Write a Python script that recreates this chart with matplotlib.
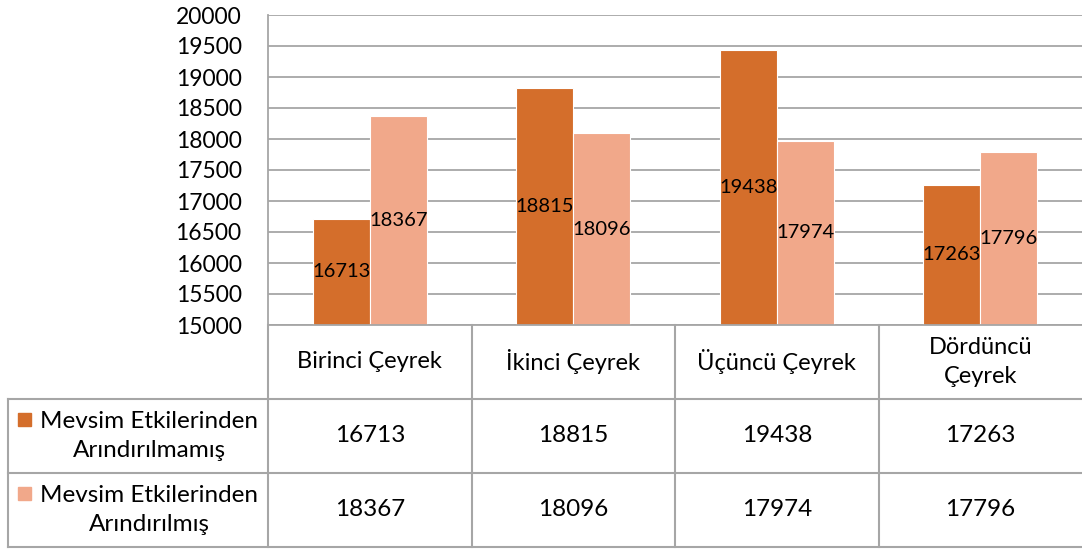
import matplotlib.pyplot as plt
from matplotlib.patches import Rectangle

# data
categories = ["Birinci Çeyrek", "İkinci Çeyrek", "Üçüncü Çeyrek", "Dördüncü\nÇeyrek"]
series_names = ["Mevsim Etkilerinden\nArındırılmamış", "Mevsim Etkilerinden\nArındırılmış"]
unadjusted = [16713, 18815, 19438, 17263]
adjusted = [18367, 18096, 17974, 17796]
yticks = list(range(15000, 20001, 500))

colors = ["#D46E2B", "#F1A88A"]
grid_col = "#A6A6A6"
plt.rcParams['font.family'] = ['Lato', 'DejaVu Sans']

W, H = 1082, 549
fig = plt.figure(figsize=(W / 100, H / 100), dpi=100)

# chart area in pixels
left, top, right, bottom = 268, 15, 1082, 325
ax = fig.add_axes([left / W, 1 - bottom / H, (right - left) / W, (bottom - top) / H])

w = 0.28
for i, (a, b) in enumerate(zip(unadjusted, adjusted)):
    ax.bar(i - w / 2, a, w, color=colors[0], edgecolor="white", linewidth=0.8, zorder=2)
    ax.bar(i + w / 2, b, w, color=colors[1], edgecolor="white", linewidth=0.8, zorder=2)
    ax.text(i - w / 2, (15000 + a) / 2, str(a), ha="center", va="center", fontsize=14.5, zorder=3)
    ax.text(i + w / 2, (15000 + b) / 2, str(b), ha="center", va="center", fontsize=14.5, zorder=3)

ax.set_xlim(-0.5, len(categories) - 0.5)
ax.set_ylim(15000, 20000)
ax.set_yticks(yticks)
ax.set_yticklabels([str(t) for t in yticks], fontsize=16.5)
ax.tick_params(axis="y", length=0, pad=19)
ax.set_xticks([])
ax.yaxis.grid(True, color=grid_col, linewidth=1.3)
ax.set_axisbelow(True)
for s in ["top", "right"]:
    ax.spines[s].set_visible(False)
for s in ["left", "bottom"]:
    ax.spines[s].set_color(grid_col)
    ax.spines[s].set_linewidth(1.3)

# data table drawn in pixel coordinates
tb = fig.add_axes([0, 0, 1, 1], facecolor="none")
tb.set_xlim(0, W)
tb.set_ylim(H, 0)
tb.axis("off")

col_w = (right - left) / len(categories)
row_top = [bottom, 399, 473]
row_bot = 547
lkw = dict(color=grid_col, linewidth=1.5)

# vertical lines
for k in range(len(categories)):
    x = left + k * col_w
    tb.plot([x, x], [bottom, row_bot], **lkw)
tb.plot([8, 8], [row_top[1], row_bot], **lkw)
# horizontal lines
for y in row_top[1:] + [row_bot]:
    tb.plot([8, right], [y, y], **lkw)

# header
for k, c in enumerate(categories):
    tb.text(left + (k + 0.5) * col_w, (row_top[0] + row_top[1]) / 2, c,
            ha="center", va="center", fontsize=17, linespacing=1.45)

# series rows
rows = [unadjusted, adjusted]
row_bounds = [(row_top[1], row_top[2]), (row_top[2], row_bot)]
for r, (vals, name) in enumerate(zip(rows, series_names)):
    y0, y1 = row_bounds[r]
    yc = (y0 + y1) / 2
    tb.add_patch(Rectangle((18, yc - 23), 13, 13, color=colors[r]))
    tb.text(149, yc, name, ha="center", va="center", fontsize=17.5, linespacing=1.45)
    for k, v in enumerate(vals):
        tb.text(left + (k + 0.5) * col_w, yc, str(v), ha="center", va="center", fontsize=17.5)

fig.savefig("out.png", dpi=100)
